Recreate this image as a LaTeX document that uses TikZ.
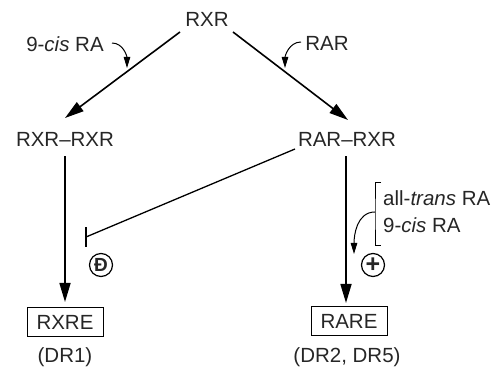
\documentclass[tikz,border=0pt]{standalone}
\usepackage{fontspec}
\setmainfont{Liberation Sans}
\usetikzlibrary{arrows.meta}
\begin{document}
\begin{tikzpicture}[x=1pt,y=-1pt,
  every node/.style={font=\fontsize{20.5}{24}\selectfont, inner sep=0pt, text=black!85},
  lbl/.style={anchor=center},
  boxnode/.style={draw, line width=1pt, minimum width=76pt, minimum height=29pt},
  signnode/.style={circle, draw, line width=1.2pt, minimum size=23pt, font=\fontsize{19}{20}\selectfont\bfseries},
  bigarrow/.style={line width=1.6pt, -{Triangle[length=19pt,width=11pt]}},
  smallarrow/.style={line width=1pt, -{Triangle[length=11pt,width=6.5pt]}},
  plainline/.style={line width=1.6pt}
]
\useasboundingbox (0,0) rectangle (496,371);

% nodes
\node[lbl] (rxr) at (207,19) {RXR};
\node[lbl] (rxrrxr) at (65,139) {RXR--RXR};
\node[lbl] (rarrxr) at (347,139) {RAR--RXR};
\node[boxnode] (rxre) at (65,322) {RXRE};
\node[boxnode] (rare) at (349,321) {RARE};
\node[lbl] (dr1) at (65,357) {(DR1)};
\node[lbl] (dr25) at (347,357) {(DR2, DR5)};
\node[lbl] (cisl) at (65,44) {9-\textit{cis} RA};
\node[lbl] (rarl) at (327,43) {RAR};
\node[anchor=west] (trans) at (383,198) {all-\textit{trans} RA};
\node[anchor=west] (cisr) at (383,225) {9-\textit{cis} RA};
\node[signnode] (minus) at (101,265) {Ð};
\node[signnode, font=\fontsize{25}{25}\selectfont\bfseries] (plus) at (373,265) {+};

% coordinates for connector ends
\coordinate (a1s) at (180,32);
\coordinate (a1e) at (65,118);
\coordinate (a2s) at (233,32);
\coordinate (a2e) at (348,120);
\coordinate (c1s) at (112,43);
\coordinate (c1e) at (127,68);
\coordinate (c2s) at (301,42);
\coordinate (c2e) at (285,68);
\coordinate (inhs) at (295,149);
\coordinate (inhe) at (86,237);
\coordinate (brt) at (381,183);
\coordinate (brb) at (381,246);
\coordinate (c3s) at (375,212);
\coordinate (c3e) at (354,254);

% main arrows
\draw[bigarrow] (a1s) -- (a1e);
\draw[bigarrow] (a2s) -- (a2e);
\draw[bigarrow] ([yshift=-10pt]rxrrxr.south) -- ([yshift=5pt]rxre.north);
\draw[bigarrow] ([xshift=-1pt,yshift=-10pt]rarrxr.south) -- ([xshift=-3pt,yshift=3pt]rare.north);

% ligand arrows
\draw[smallarrow] (c1s) to[out=0,in=90] (c1e);
\draw[smallarrow] (c2s) to[out=180,in=90] (c2e);

% inhibition
\draw[line width=1.3pt] (inhs) -- (inhe);
\draw[line width=1.5pt] ([yshift=-10pt]inhe) -- ([yshift=10pt]inhe);

% bracket
\draw[line width=1pt] (brt) -| (375,214.5) |- (brb);
\draw[smallarrow] (c3s) to[out=180,in=90] (c3e);
\end{tikzpicture}
\end{document}
